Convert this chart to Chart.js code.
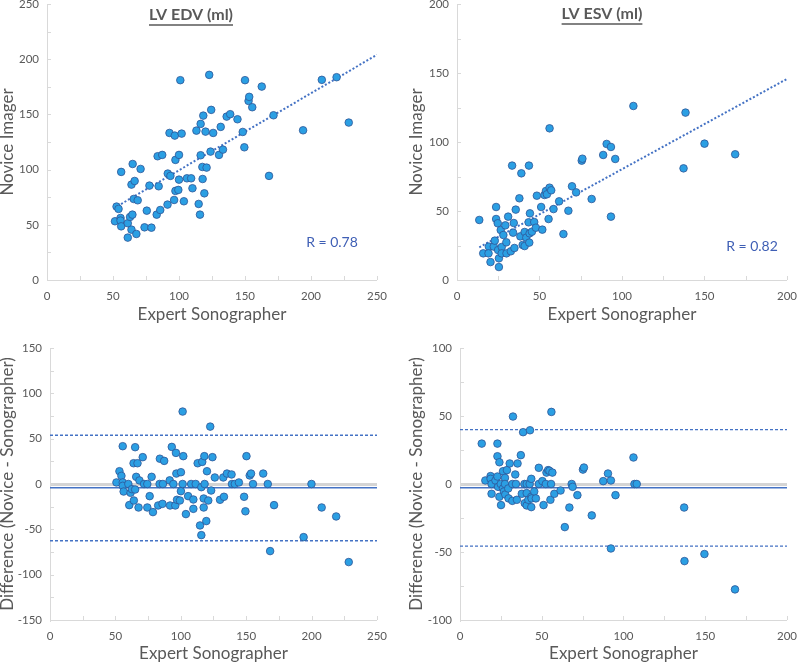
<!DOCTYPE html>
<html>
<head>
<meta charset="utf-8">
<script src="https://cdn.jsdelivr.net/npm/chart.js@4.4.1/dist/chart.umd.min.js"></script>
<style>
  html, body { margin: 0; padding: 0; background: #fff; overflow: hidden; }
  #wrap { position: relative; width: 800px; height: 664px; }
  canvas { position: absolute; }
</style>
</head>
<body>
<div id="wrap">
  <canvas id="edvScatter"></canvas>
  <canvas id="esvScatter"></canvas>
  <canvas id="edvBland"></canvas>
  <canvas id="esvBland"></canvas>
</div>
<script>
"use strict";

// LV EDV: expert vs novice
const edvExpert = [51.5, 52.7, 54.2, 55.7, 55.7, 56.2, 56.2, 61.2, 61.2, 62.9, 64, 64.7, 64, 64.9, 66.4, 65.7, 68.7, 67.7, 70.9, 73.9,
  75.6, 77.6, 79.1, 83.8, 87.3, 84.6, 83.1, 85.8, 91.5, 93.5, 91.3, 92.8, 96.8, 96.3, 97.3, 97.3, 99.5, 100, 100, 101,
  102, 103.7, 106, 109.2, 110.2, 113.2, 114.9, 115.9, 116.4, 116.4, 117.7, 117.9, 118.4, 119.2, 120.1, 120.9, 122.9, 124.4, 123.9, 125.9,
  130.3, 131.6, 133.3, 136.1, 138.8, 144.3, 148.3, 149.5, 150, 152.7, 153.2, 155.5, 162.7, 168.2, 171.6, 194, 208.2, 219.4, 228.6];
const edvNovice = [53.2, 66.5, 64.4, 56.2, 53.8, 48.6, 97.9, 51.4, 38.4, 57.1, 45.6, 59.2, 86.4, 105.1, 89.7, 73.4, 72.2, 41.7, 100.6, 47.7,
  62.8, 85.5, 47.4, 112.1, 113.3, 84.9, 59.2, 63.4, 96.4, 94.3, 68.3, 133.2, 130.8, 72.5, 80.7, 108.8, 81.6, 90.9, 113.3, 181,
  132.6, 71.3, 92.1, 92.1, 83.1, 135.3, 68.9, 59.2, 141.4, 113, 102.4, 91.5, 148.9, 78.5, 134.4, 101.8, 185.8, 154.1, 116.3, 133.2,
  113.3, 138.7, 118.1, 148, 150.2, 145.6, 134.1, 120.2, 181, 162.2, 165.9, 156.5, 175.2, 94.3, 149.2, 135.6, 181.3, 183.7, 142.6];
const edvTrendX = [53.5, 250];
const edvTrendY = [67, 204];

// LV ESV: expert vs novice
const esvExpert = [13.5, 15.9, 19.3, 19.1, 20.3, 22.3, 22.9, 23.7, 23.7, 24.7, 24.9, 25.4, 25.4, 26.5, 27.1, 27.1, 28.1, 29.3, 29.9, 30,
  31, 32.6, 33.4, 34, 34.4, 34.8, 35.6, 37.8, 38.4, 39, 39.8, 41, 41, 42, 43.4, 43.6, 44.2, 44, 43.8, 45.4,
  46.8, 47.8, 48.4, 51, 51.7, 53, 53.9, 54.5, 55.5, 56.1, 56.1, 57.1, 58.5, 61.9, 64.5, 67.5, 69.7, 72.2, 75.6, 76,
  81.6, 88.6, 90.7, 93.3, 93.3, 95.9, 106.9, 137.3, 138.5, 150, 168.6];
const esvNovice = [43.5, 19.3, 24.2, 19.3, 13, 24.2, 28.5, 52.9, 44.2, 41.1, 21.7, 15.7, 9.4, 36.2, 23.9, 19.3, 32.6, 39.6, 27.3, 19.3,
  45.9, 20.8, 82.9, 34.3, 41.3, 23.2, 51, 59.2, 31.6, 77.3, 25.4, 24.6, 34.8, 30.7, 41.8, 82.9, 48.3, 33.8, 27.1, 35,
  42, 37.9, 61.1, 52.9, 36.5, 61.6, 64.5, 62.1, 44.2, 109.9, 66.9, 65, 51.4, 57, 33.3, 50.2, 67.9, 63.5, 86.5, 87.9,
  58.7, 90.6, 98.6, 96.4, 45.9, 87.7, 126.1, 80.9, 121.3, 98.8, 91.1];
const esvTrendX = [13.5, 200];
const esvTrendY = [23.7, 145.7];

// Bland-Altman EDV
const edvBaX = [50.8, 53.1, 54.6, 55.6, 55.6, 55.6, 56.3, 59.9, 60.6, 61.6, 62.6, 63.9, 64.1, 65.1, 65.1, 65.9, 66.9, 67.7, 68.4, 70.9,
  71.9, 74.4, 74.4, 76.2, 77.7, 78.7, 82.7, 84, 83.8, 86, 86.3, 87.3, 91.5, 91.8, 93.1, 94.3, 95.8, 96.3, 96.6, 97.1,
  99.3, 100.1, 100.1, 101.4, 101.4, 101.9, 103.9, 105.6, 107.9, 109.6, 109.6, 111.4, 112.9, 114.7, 115.7, 115.7, 116.4, 117.5, 117.5, 118,
  118.2, 119.5, 120, 121, 122.5, 123.2, 124.2, 126, 130, 132.5, 133, 135.3, 138.8, 139.1, 141.3, 144.4, 148.4, 149.4, 150.2, 152.7,
  153.7, 155.2, 163, 166.5, 168.3, 171.3, 193.9, 199.9, 207.7, 218.8, 228.4];
const edvBaDiff = [1.7, 14.1, 9, 41.7, 1.7, -2, -8.3, 0, -23.3, -9.7, -5.7, 22.9, -18.2, 40.6, -6.1, 7.9, 22.9, -25.9, 3.9, 29.6,
  0, 0, -25.9, -13.4, 7.9, -31, -23.7, 27.9, 0, -21.9, 0, 25.5, 4, -23.7, 40.9, 0, -23.7, 34.3, 11.5, -17.4,
  -18.2, 13, -7.9, 79.9, 0, 30.7, -33.2, -13.4, 0, -17.1, -27.4, 0, 22.9, -45.7, -56.4, -3.5, 24.4, -16, -25.9, 30.7,
  0, -40.9, 14.1, -18.2, 63.3, -7.2, 29.6, 7.2, -17.4, 7.2, -14.1, 11.5, 10.5, 0, 0, 1.7, -14.1, -30.1, 30.7, 9.4,
  11.5, 0, 11.5, 0, -74, -23.3, -58.6, 0, -25.9, -35.8, -86.1];
const edvBias = -4.2, edvUpper = 53.8, edvLower = -62.6;

// Bland-Altman ESV
const esvBaX = [13.3, 15.5, 18.7, 18.7, 19.3, 19.3, 21.7, 22.9, 22.9, 22.9, 23.3, 24.1, 24.1, 24.9, 25.1, 26.3, 26.3, 26.9, 27.5, 27.5,
  27.7, 28.7, 29.5, 29.7, 30.4, 32, 32, 32.4, 33.8, 34.2, 34.8, 35.2, 37.2, 37.8, 38.6, 39.4, 39.6, 40.8, 40.8, 40.8,
  41.8, 42.6, 42.8, 43.6, 43.6, 43.6, 43.8, 45.4, 46.4, 48.2, 48.2, 50.4, 51.1, 52.5, 52.9, 53.9, 54.7, 55.7, 55.3, 55.9,
  56.5, 57.7, 61.5, 64.1, 66.9, 68.3, 68.9, 71.8, 75.2, 75.8, 80.6, 87.6, 90.5, 92.3, 92.3, 95.1, 106.1, 106.7, 108.1, 137.1,
  137.3, 149.5, 168.2];
const esvBaDiff = [29.7, 2.6, 5.8, 3.8, 0, -7.2, 2.6, 29.7, 20.4, 5.5, -2.1, 16, -9.4, 0, -15.5, 9.4, -3.3, -5.5, 4.5, 0,
  -7.7, 10.2, -3.3, -10.6, 15.1, 0, -12.4, 49.6, 7, 0, -11.6, 15.1, 21.2, -7.2, 38.1, 0, -14.1, 0, -6.7, -15.8,
  -11.6, 0, 39.5, 3.8, -9.4, -17, -10.6, -5.5, -10.6, 11.9, 0, 2.1, -15.5, 0, 8.4, 10.2, 9.7, 0, -11.6, 53,
  8.4, -7.2, -4.8, -31.7, -17.3, 0, -2.1, -8.2, 10.6, 12.1, -23.1, 2.1, 7.7, 2.6, -47.4, -8.2, 19.5, 0, 0, -17.3,
  -56.7, -51.5, -77.5];
const esvBias = -2.8, esvUpper = 40, esvLower = -45.7;

const FONT = 'Lato, "Open Sans", sans-serif';
const TEXT = '#595959';
const AXIS = '#d9d9d9';
const DOT_FILL = '#2b9fe3';
const DOT_EDGE = '#2f5597';
const LINE = '#4472c4';

const AX_W = 60, PAD_T = 20, PAD_R = 14, AX_H = 56;

const toPts = (xs, ys) => xs.map((x, i) => ({ x: x, y: ys[i] }));

// titles, R labels and small inside tick marks
const decorate = {
  id: 'decorate',
  afterDraw(chart, args, opts) {
    const c = chart.ctx;
    const { left, right, top, bottom } = chart.chartArea;
    // minor tick marks, pointing inward
    c.save();
    c.strokeStyle = AXIS;
    c.lineWidth = 1;
    const sx = chart.scales.x, sy = chart.scales.y;
    for (let v = sx.min + 25; v <= sx.max; v += 25) {
      const px = Math.round(sx.getPixelForValue(v)) + 0.5;
      c.beginPath(); c.moveTo(px, bottom); c.lineTo(px, bottom - 4); c.stroke();
    }
    for (let v = sy.min + 25; v <= sy.max; v += 25) {
      const py = Math.round(sy.getPixelForValue(v)) + 0.5;
      c.beginPath(); c.moveTo(left, py); c.lineTo(left + 4, py); c.stroke();
    }
    c.restore();

    (opts.items || []).forEach(it => {
      c.save();
      c.font = it.font;
      c.fillStyle = it.color;
      c.textAlign = 'center';
      c.textBaseline = 'middle';
      const x = it.x - opts.ox, y = it.y - opts.oy;
      c.fillText(it.text, x, y);
      if (it.underline) {
        const w = c.measureText(it.text).width;
        c.strokeStyle = it.color;
        c.lineWidth = 1.3;
        c.beginPath();
        c.moveTo(x - w / 2, y + 10);
        c.lineTo(x + w / 2, y + 10);
        c.stroke();
      }
      c.restore();
    });
  }
};

function buildPanel(id, p) {
  const cv = document.getElementById(id);
  const cl = p.plot.l - AX_W, ct = p.plot.t - PAD_T;
  const w = p.plot.r - cl + PAD_R, h = p.plot.b - ct + AX_H;
  cv.width = w; cv.height = h;
  cv.style.left = cl + 'px'; cv.style.top = ct + 'px';
  cv.style.width = w + 'px'; cv.style.height = h + 'px';

  const titleSize = 17, lh = titleSize * 1.2;
  const yPad = (p.yTitleX - cl) - lh / 2;
  const xPad = (ct + h) - p.xTitleY - lh / 2;

  const datasets = [{
    type: 'scatter',
    data: toPts(p.xs, p.ys),
    backgroundColor: DOT_FILL,
    borderColor: DOT_EDGE,
    borderWidth: 0.8,
    pointRadius: 3.8,
    order: 0
  }];
  p.lines.forEach(l => datasets.push({
    type: 'line',
    data: toPts(l.xs, l.ys),
    borderColor: LINE,
    borderWidth: l.width,
    borderDash: l.dash,
    pointRadius: 0,
    fill: false,
    order: 1
  }));

  return new Chart(cv, {
    type: 'scatter',
    data: { datasets: datasets },
    options: {
      responsive: false,
      animation: false,
      devicePixelRatio: 1,
      layout: { padding: { top: PAD_T, right: PAD_R, left: 0, bottom: 0 } },
      plugins: {
        legend: { display: false },
        tooltip: { enabled: false },
        decorate: { items: p.texts, ox: cl, oy: ct }
      },
      scales: {
        x: {
          type: 'linear', min: p.xMin, max: p.xMax,
          afterFit: s => { s.height = AX_H; },
          grid: { display: false, drawTicks: false },
          border: { display: true, color: AXIS, width: 1 },
          ticks: { stepSize: 50, padding: 9, color: TEXT, font: { family: FONT, size: 11.5 } },
          title: { display: true, text: 'Expert Sonographer', color: TEXT, padding: { top: 0, bottom: xPad },
                   font: { family: FONT, size: titleSize } }
        },
        y: {
          type: 'linear', min: p.yMin, max: p.yMax,
          afterFit: s => { s.width = AX_W; },
          grid: p.zeroLine ? {
            display: true, drawTicks: false,
            color: c => (c.tick && c.tick.value === 0) ? '#d4d4d4' : 'rgba(0,0,0,0)',
            lineWidth: 3
          } : { display: false, drawTicks: false },
          border: { display: true, color: AXIS, width: 1 },
          ticks: { stepSize: 50, padding: 8, color: TEXT, font: { family: FONT, size: 11.5 } },
          title: { display: true, text: p.yTitle, color: TEXT, padding: { top: yPad, bottom: 0 },
                   font: { family: FONT, size: titleSize } }
        }
      }
    },
    plugins: [decorate]
  });
}

const titleFont = 'bold 16px ' + FONT;
const rFont = '14px ' + FONT;

buildPanel('edvScatter', {
  plot: { l: 47, t: 4, r: 382, b: 280 },
  xMin: 0, xMax: 250, yMin: 0, yMax: 250,
  xs: edvExpert, ys: edvNovice,
  yTitle: 'Novice Imager', yTitleX: 8, xTitleY: 315,
  lines: [{ xs: edvTrendX, ys: edvTrendY, width: 2, dash: [2, 2] }],
  texts: [
    { text: 'LV EDV (ml)', x: 191, y: 15, font: titleFont, color: TEXT, underline: true },
    { text: 'R = 0.78', x: 332, y: 242, font: rFont, color: '#3f5fb5' }
  ]
});

buildPanel('esvScatter', {
  plot: { l: 457, t: 4, r: 792, b: 280 },
  xMin: 0, xMax: 200, yMin: 0, yMax: 200,
  xs: esvExpert, ys: esvNovice,
  yTitle: 'Novice Imager', yTitleX: 417, xTitleY: 315,
  lines: [{ xs: esvTrendX, ys: esvTrendY, width: 2, dash: [2, 2] }],
  texts: [
    { text: 'LV ESV (ml)', x: 602, y: 14, font: titleFont, color: TEXT, underline: true },
    { text: 'R = 0.82', x: 752, y: 246, font: rFont, color: '#3f5fb5' }
  ]
});

buildPanel('edvBland', {
  plot: { l: 50, t: 348, r: 382, b: 620 },
  xMin: 0, xMax: 250, yMin: -150, yMax: 150,
  xs: edvBaX, ys: edvBaDiff, zeroLine: true,
  yTitle: 'Difference (Novice - Sonographer)', yTitleX: 8, xTitleY: 654,
  lines: [
    { xs: [0, 250], ys: [edvBias, edvBias], width: 1.6, dash: [] },
    { xs: [0, 250], ys: [edvUpper, edvUpper], width: 1.4, dash: [3, 2] },
    { xs: [0, 250], ys: [edvLower, edvLower], width: 1.4, dash: [3, 2] }
  ],
  texts: []
});

buildPanel('esvBland', {
  plot: { l: 460, t: 348, r: 792, b: 620 },
  xMin: 0, xMax: 200, yMin: -100, yMax: 100,
  xs: esvBaX, ys: esvBaDiff, zeroLine: true,
  yTitle: 'Difference (Novice - Sonographer)', yTitleX: 417, xTitleY: 654,
  lines: [
    { xs: [0, 200], ys: [esvBias, esvBias], width: 1.6, dash: [] },
    { xs: [0, 200], ys: [esvUpper, esvUpper], width: 1.4, dash: [3, 2] },
    { xs: [0, 200], ys: [esvLower, esvLower], width: 1.4, dash: [3, 2] }
  ],
  texts: []
});
</script>
</body>
</html>
